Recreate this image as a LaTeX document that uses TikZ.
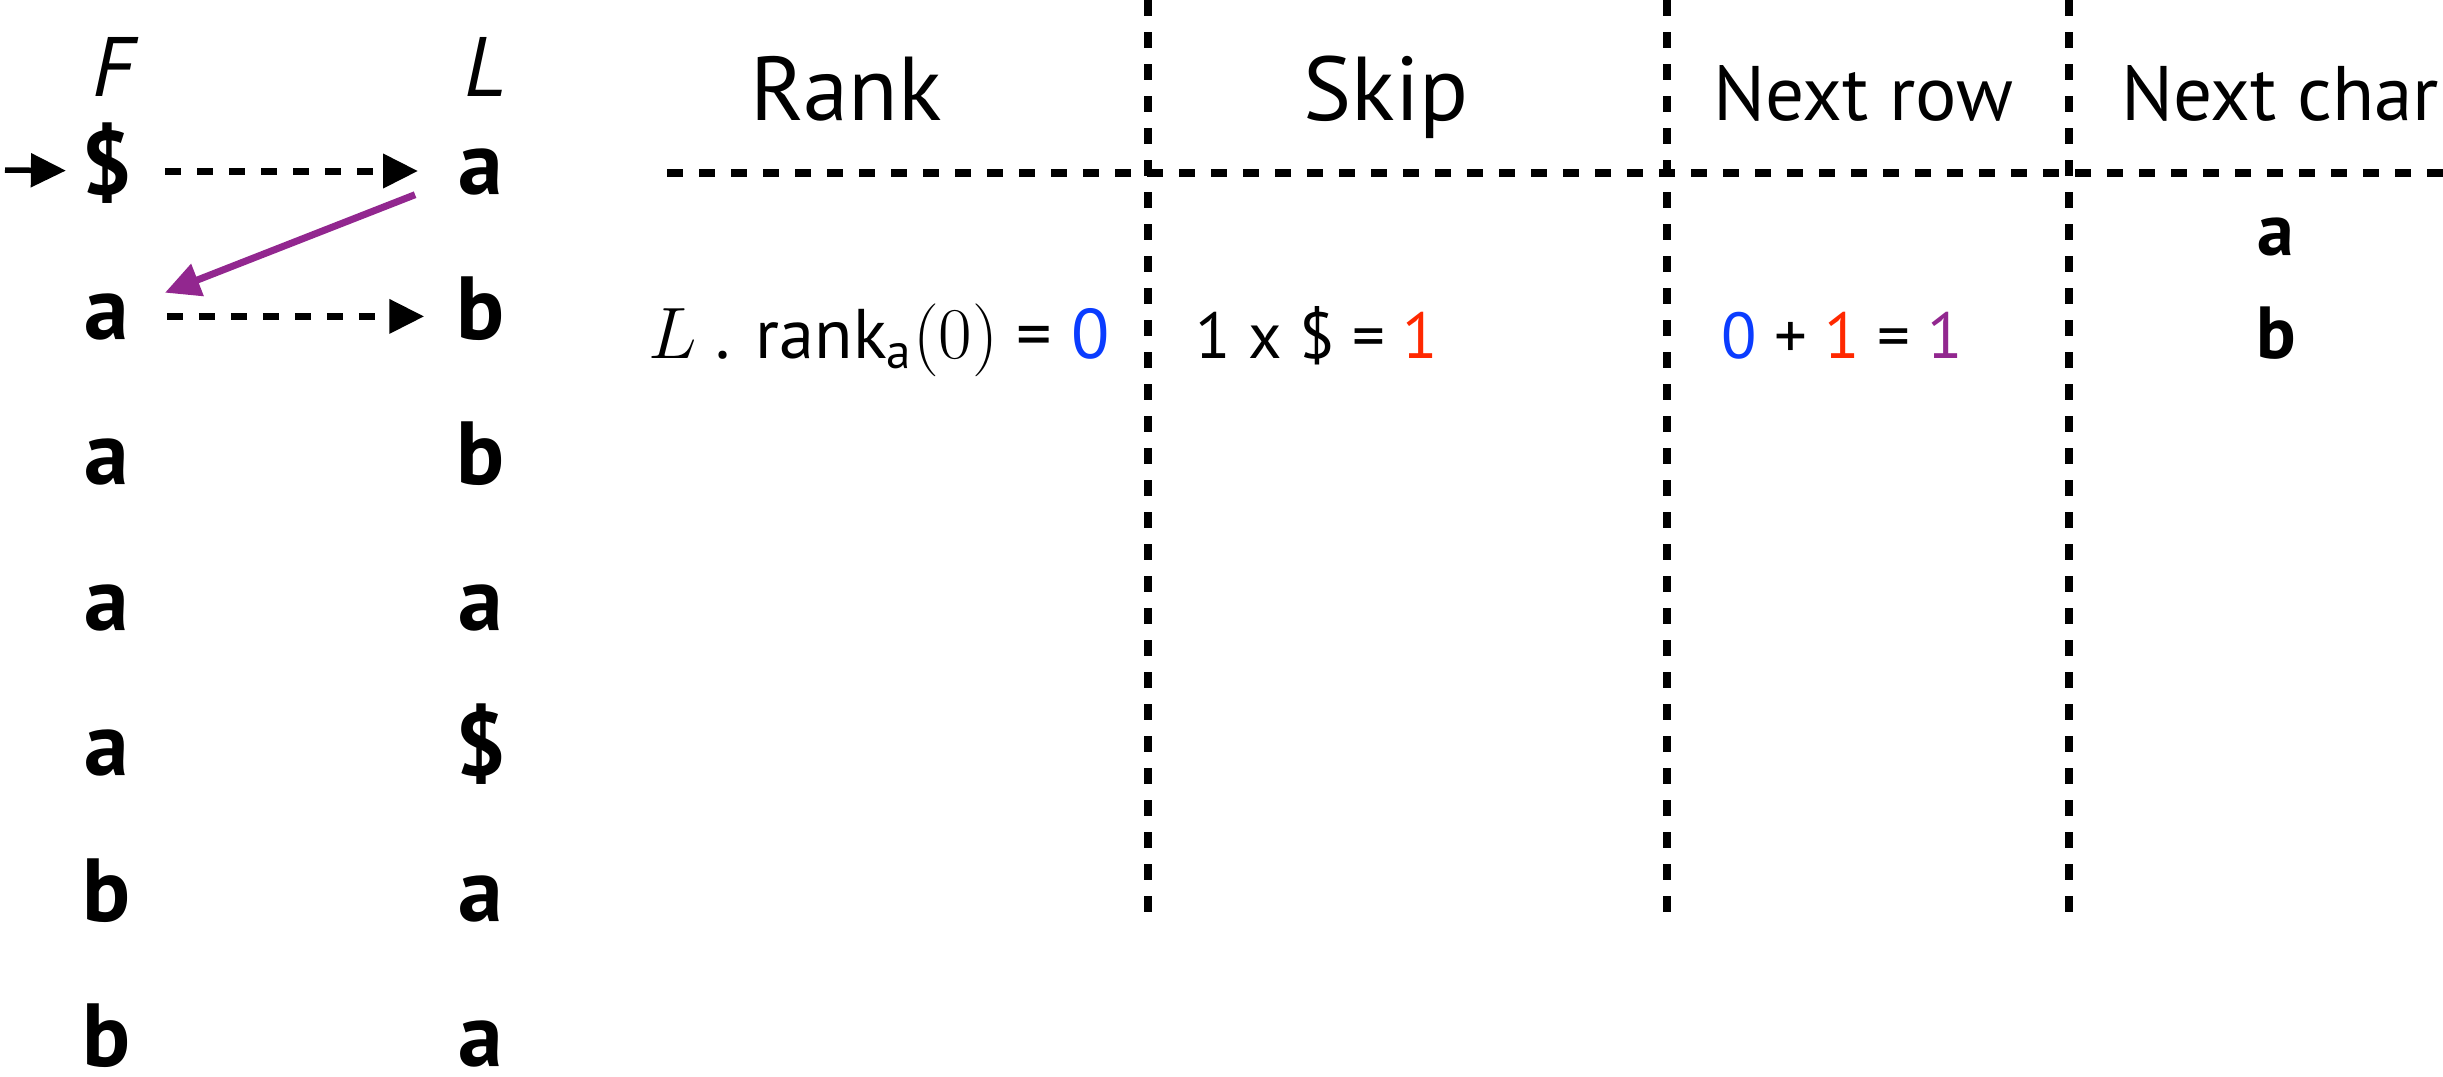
\documentclass[tikz,border=0pt]{standalone}
\usepackage{fontspec}
\setmainfont{PT Sans}
\usetikzlibrary{arrows.meta, positioning, calc}

\definecolor{rankblue}{RGB}{10,60,255}
\definecolor{skipred}{RGB}{255,40,0}
\definecolor{rowpurple}{RGB}{146,39,143}

\begin{document}
\begin{tikzpicture}[>={Triangle[length=3.5mm, width=3.3mm]},
    letter/.style={font=\fontsize{25.5}{30}\selectfont\bfseries, inner sep=0pt,
                   text height=4.6mm, text depth=0pt},
    colname/.style={font=\fontsize{24}{28}\selectfont\itshape, anchor=base},
    bighead/.style={font=\fontsize{25.8}{30}\selectfont, anchor=base},
    smallhead/.style={font=\fontsize{22}{26}\selectfont, anchor=base},
    entry/.style={font=\fontsize{18.5}{22}\selectfont, anchor=base},
    nextchar/.style={font=\fontsize{21}{26}\selectfont\bfseries, anchor=base},
    grid/.style={line width=0.8mm, dash pattern=on 1.6mm off 1.6mm},
    lfmap/.style={->, line width=0.7mm, dash pattern=on 1.6mm off 1.6mm}]
  \useasboundingbox (0,0) rectangle (24.43,-10.76);

  % F and L columns
  \node[colname] (fhead) at (1.13,-0.96) {F};
  \node[colname] (lhead) at (4.85,-0.96) {L};
  \foreach \c [count=\i] in {\$,a,a,a,a,b,b}
    \node[letter] (f\i) at (1.07, {-1.71-1.454*(\i-1)}) {\c};
  \foreach \c [count=\i] in {a,b,b,a,\$,a,a}
    \node[letter] (l\i) at (4.81, {-1.71-1.454*(\i-1)}) {\c};

  % Start row and LF steps
  \coordinate (start) at (0.05,-1.70);
  \draw[->, line width=0.55mm, shorten >=1.5mm] (start) -- (f1);
  \draw[lfmap, shorten <=3.2mm, shorten >=4mm] (f1) -- (l1);
  \draw[lfmap, shorten <=3.7mm, shorten >=3.2mm] (f2) -- (l2);
  \draw[->, rowpurple, line width=0.7mm]
    ([xshift=-4.3mm]l1.south west) -- ([xshift=3.5mm]f2.north east);

  % Table rules
  \foreach \x in {11.48,16.67,20.69}
    \draw[grid] (\x,0) -- (\x,-9.19);
  \draw[grid] (6.67,-1.73) -- (24.43,-1.73);

  % Headers
  \node[bighead] (rank) at (8.46,-1.20) {Rank};
  \node[bighead] (skip) at (13.86,-1.20) {Skip};
  \node[smallhead] (nextrow) at (18.63,-1.20) {Next row};
  \node[smallhead] (nextchr) at (22.80,-1.20) {Next char};

  % First step
  \node[entry] (rankval) at (8.79,-3.58)
    {\fontsize{20}{24}\selectfont$L$ . rank\textsubscript{a}$(0)$ = \textcolor{rankblue}{0}};
  \node[entry] (skipval) at (13.17,-3.58) {1 x \$ = \textcolor{skipred}{1}};
  \node[entry] (rowval) at (18.42,-3.58)
    {\textcolor{rankblue}{0} + \textcolor{skipred}{1} = \textcolor{rowpurple}{1}};
  \node[nextchar] (chr1) at (22.76,-2.55) {a};
  \node[nextchar] (chr2) at (22.76,-3.58) {b};
\end{tikzpicture}
\end{document}
